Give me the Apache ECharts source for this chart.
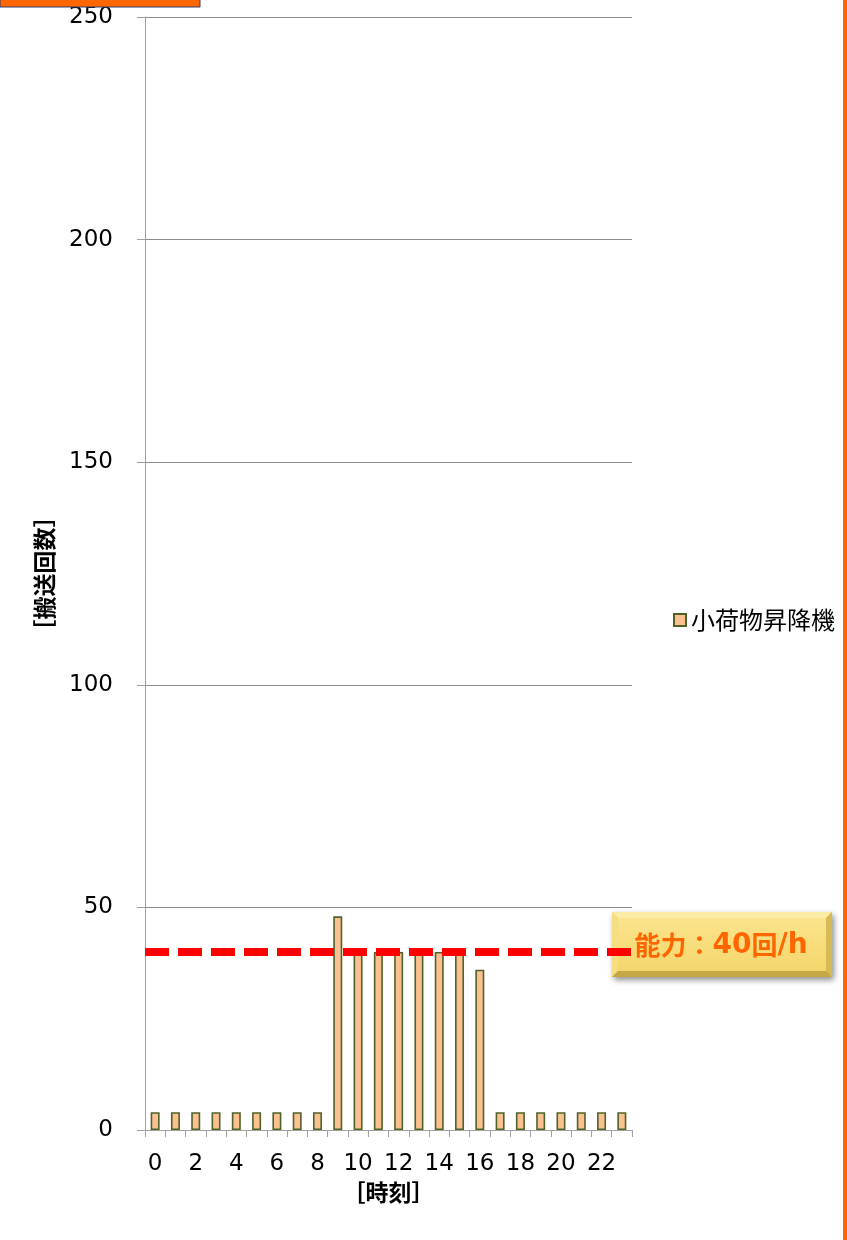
<!DOCTYPE html>
<html>
<head>
<meta charset="utf-8">
<script src="https://cdn.jsdelivr.net/npm/echarts@6/dist/echarts.min.js"></script>
<style>
  html, body { margin: 0; padding: 0; background: #fff; }
  #chart { width: 847px; height: 1240px; }
</style>
</head>
<body>
<div id="chart"></div>
<script>
// Hourly transport counts for the small-goods lift
const hours = ['0','1','2','3','4','5','6','7','8','9','10','11','12','13','14','15','16','17','18','19','20','21','22','23'];
const liftCounts = [4, 4, 4, 4, 4, 4, 4, 4, 4, 48, 40, 40, 40, 40, 40, 40, 36, 4, 4, 4, 4, 4, 4, 4];
const seriesName = '小荷物昇降機';
const capacity = 40;
const yTicks = { min: 0, max: 250, interval: 50 };

const FONT = '"DejaVu Sans", "Noto Sans CJK JP", sans-serif';
const CJK = '"Noto Sans CJK JP", "DejaVu Sans", sans-serif';
const chart = echarts.init(document.getElementById('chart'), null, { renderer: 'canvas' });

// Gold bevelled call-out box for the capacity line
const bx = 612, by = 912, bw = 220, bh = 65, bev = 6;
const capacityBox = {
  type: 'group',
  z: 100,
  children: [
    { type: 'rect', shape: { x: bx, y: by, width: bw, height: bh },
      style: { fill: '#E9C95E', shadowBlur: 6, shadowOffsetX: 2, shadowOffsetY: 3, shadowColor: 'rgba(0,0,0,0.45)' } },
    // top bevel
    { type: 'polygon', shape: { points: [[bx, by], [bx + bw, by], [bx + bw - bev, by + bev], [bx + bev, by + bev]] },
      style: { fill: '#FBEDA6' } },
    // left bevel
    { type: 'polygon', shape: { points: [[bx, by], [bx + bev, by + bev], [bx + bev, by + bh - bev], [bx, by + bh]] },
      style: { fill: '#F5DD82' } },
    // right bevel
    { type: 'polygon', shape: { points: [[bx + bw, by], [bx + bw, by + bh], [bx + bw - bev, by + bh - bev], [bx + bw - bev, by + bev]] },
      style: { fill: '#D7B955' } },
    // bottom bevel
    { type: 'polygon', shape: { points: [[bx, by + bh], [bx + bev, by + bh - bev], [bx + bw - bev, by + bh - bev], [bx + bw, by + bh]] },
      style: { fill: '#C6A645' } },
    // face
    { type: 'rect', shape: { x: bx + bev, y: by + bev, width: bw - 2 * bev, height: bh - 2 * bev },
      style: { fill: new echarts.graphic.LinearGradient(0, 0, 0, 1, [
        { offset: 0, color: '#FBE48C' }, { offset: 1, color: '#F5D66C' }]) } },
    { type: 'text', x: bx + bw / 2 - 1, y: by + bh / 2 + 1,
      style: {
        text: '{a|能力：}{b|' + capacity + '}{a|回}{b|/h}',
        align: 'center', verticalAlign: 'middle',
        rich: {
          a: { fill: '#FF6600', font: 'bold 26px ' + CJK },
          b: { fill: '#FF6600', font: 'bold 28px ' + FONT }
        }
      } }
  ]
};

const option = {
  backgroundColor: '#ffffff',
  animation: false,
  textStyle: { fontFamily: FONT },
  grid: { left: 145, top: 17, right: 215, bottom: 110, containLabel: false },
  legend: {
    data: [seriesName],
    orient: 'vertical',
    left: 673, top: 608,
    padding: 0,
    icon: 'rect',
    itemWidth: 12, itemHeight: 12,
    itemGap: 5,
    textStyle: { fontSize: 24, color: '#000', fontFamily: CJK }
  },
  xAxis: {
    type: 'category',
    data: hours,
    boundaryGap: true,
    name: '［時刻］',
    nameLocation: 'middle',
    nameGap: 48,
    nameTextStyle: { fontSize: 23, fontWeight: 'bold', color: '#000', fontFamily: CJK },
    axisLine: { show: true, lineStyle: { color: '#A0A0A0', width: 1 } },
    axisTick: { show: true, interval: 0, length: 7, alignWithLabel: false, lineStyle: { color: '#A0A0A0' } },
    axisLabel: { interval: 1, fontSize: 23, color: '#000', margin: 23, fontFamily: FONT }
  },
  yAxis: {
    type: 'value',
    min: yTicks.min, max: yTicks.max, interval: yTicks.interval,
    name: '［搬送回数］',
    nameLocation: 'middle',
    nameRotate: 90,
    nameGap: 89,
    nameTextStyle: { fontSize: 23, fontWeight: 'bold', color: '#000', fontFamily: CJK },
    axisLine: { show: true, lineStyle: { color: '#A0A0A0', width: 1 } },
    axisTick: { show: true, length: 8, lineStyle: { color: '#A0A0A0' } },
    axisLabel: { fontSize: 23, color: '#000', margin: 32, fontFamily: FONT },
    splitLine: { show: true, lineStyle: { color: '#8C8C8C', width: 1 } }
  },
  series: [{
    name: seriesName,
    type: 'bar',
    data: liftCounts,
    barWidth: 9,
    itemStyle: { color: '#FAC090', borderColor: '#4F6228', borderWidth: 1.6 },
    markLine: {
      silent: true,
      symbol: ['none', 'none'],
      label: { show: false },
      lineStyle: { color: '#FF0000', width: 8, type: [24, 9], cap: 'butt' },
      data: [{ yAxis: capacity }],
      z: 10
    }
  }],
  graphic: [
    // orange strip on the right edge
    { type: 'rect', shape: { x: 843, y: 0, width: 4, height: 1240 }, style: { fill: '#FF6600' }, z: 50 },
    // orange header strip at the top left
    { type: 'rect', shape: { x: 0, y: -2, width: 200, height: 9 }, style: { fill: '#FF6600', stroke: '#2F3F6F', lineWidth: 1 }, z: 50 },
    capacityBox
  ]
};

chart.setOption(option);
</script>
</body>
</html>
